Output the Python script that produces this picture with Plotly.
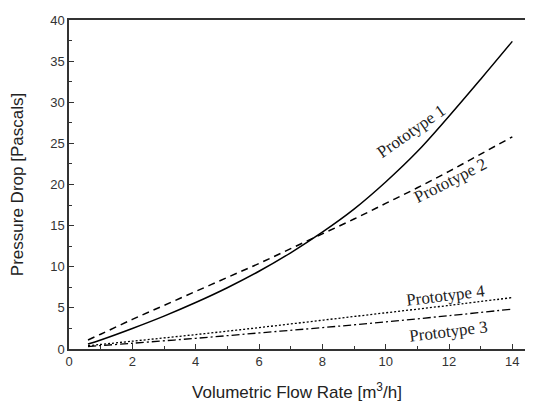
import plotly.graph_objects as go

flow = [0.6, 1, 2, 3, 4, 5, 6, 7, 8, 9, 10, 11, 12, 13, 14]
proto1 = [0.6, 1.1, 2.5, 4.0, 5.65, 7.45, 9.45, 11.7, 14.2, 17.0, 20.3, 24.0, 28.3, 32.8, 37.4]
proto2 = [1.1, 1.8, 3.6, 5.3, 7.0, 8.7, 10.4, 12.2, 14.0, 15.8, 17.7, 19.6, 21.6, 23.7, 25.8]
flow_low = [0.6, 2, 4, 6, 8, 10, 12, 14]
proto4 = [0.4, 0.95, 1.75, 2.6, 3.5, 4.4, 5.3, 6.25]
proto3 = [0.3, 0.7, 1.3, 1.95, 2.6, 3.3, 4.05, 4.85]

labels = ["Prototype 1", "Prototype 2", "Prototype 3", "Prototype 4"]
label_x = [10.8, 12.05, 11.97, 11.9]
label_y = [26.4, 20.5, 2.1, 6.45]
label_angle = [-35, -27, -7, -7]

fig = go.Figure()
fig.add_trace(go.Scatter(x=flow, y=proto1, mode="lines", line_shape="spline",
                         line=dict(color="black", width=1.5), name=labels[0]))
fig.add_trace(go.Scatter(x=flow, y=proto2, mode="lines", line_shape="spline",
                         line=dict(color="black", width=1.5, dash="7px,5px"), name=labels[1]))
fig.add_trace(go.Scatter(x=flow_low, y=proto3, mode="lines", line_shape="spline",
                         line=dict(color="black", width=1.3, dash="8px,3px,2px,3px"), name=labels[2]))
fig.add_trace(go.Scatter(x=flow_low, y=proto4, mode="lines", line_shape="spline",
                         line=dict(color="black", width=1.3, dash="2px,2px"), name=labels[3]))

for t, x, y, a in zip(labels, label_x, label_y, label_angle):
    fig.add_annotation(x=x, y=y, text=t, showarrow=False, textangle=a,
                       font=dict(family="Liberation Serif, DejaVu Serif, serif", size=17, color="#222"))

axis_common = dict(showgrid=False, zeroline=False, showline=True, linecolor="#333", linewidth=1.5,
                   mirror=True, ticks="inside", ticklen=5, tickwidth=1.2, tickcolor="#333",
                   ticklabeloverflow="allow",
                   tickfont=dict(family="Liberation Sans, Arial, sans-serif", size=13, color="#333"))

fig.update_xaxes(range=[0, 14.4], dtick=2, tick0=0,
                 minor=dict(dtick=1, ticks="inside", ticklen=3, tickcolor="#333"),
                 title=dict(text="Volumetric Flow Rate [m<sup>3</sup>/h]", standoff=18,
                            font=dict(family="Liberation Sans, Arial, sans-serif", size=17, color="#222")),
                 **axis_common)
fig.update_yaxes(range=[0, 40], dtick=5, tick0=0,
                 minor=dict(dtick=2.5, ticks="inside", ticklen=3, tickcolor="#333"),
                 title=dict(text="Pressure Drop [Pascals]", standoff=22,
                            font=dict(family="Liberation Sans, Arial, sans-serif", size=17, color="#222")),
                 **axis_common)

# page body has an 8px margin, so the figure is sized to fit the 533x406 window
fig.update_layout(width=525, height=398, margin=dict(l=61, r=8, t=5, b=57),
                  plot_bgcolor="white", paper_bgcolor="white", showlegend=False)

fig.write_html("out.html")
